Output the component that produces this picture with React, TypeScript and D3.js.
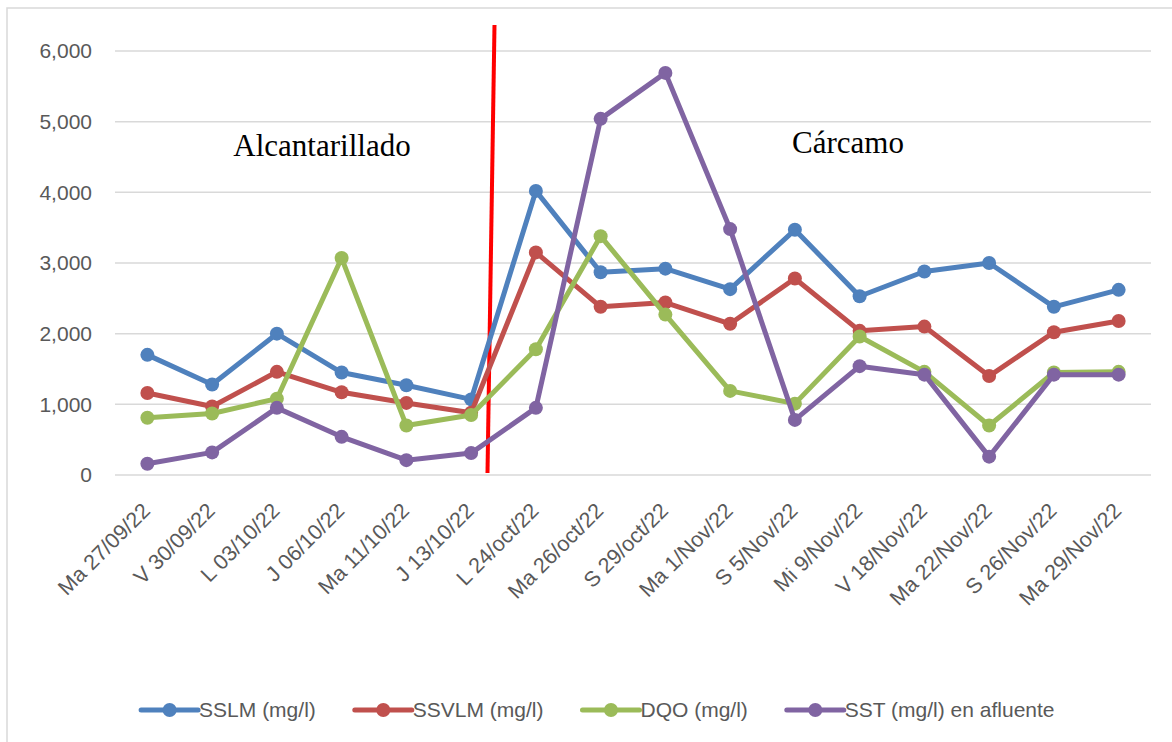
import { useMemo } from 'react'
import * as d3 from 'd3'

const CATEGORIES = [
  'Ma 27/09/22', 'V 30/09/22', 'L 03/10/22', 'J 06/10/22', 'Ma 11/10/22', 'J 13/10/22',
  'L 24/oct/22', 'Ma 26/oct/22', 'S 29/oct/22', 'Ma 1/Nov/22', 'S 5/Nov/22', 'Mi 9/Nov/22',
  'V 18/Nov/22', 'Ma 22/Nov/22', 'S 26/Nov/22', 'Ma 29/Nov/22',
]

const SSLM = [1700, 1280, 2000, 1450, 1270, 1070, 4020, 2870, 2920, 2630, 3470, 2530, 2880, 3000, 2380, 2620]
const SSVLM = [1160, 970, 1460, 1170, 1020, 880, 3150, 2380, 2440, 2140, 2780, 2040, 2100, 1400, 2020, 2180]
const DQO = [810, 870, 1080, 3070, 700, 850, 1780, 3380, 2270, 1190, 1010, 1960, 1460, 700, 1450, 1460]
const SST = [160, 320, 950, 540, 210, 310, 950, 5040, 5690, 3480, 780, 1540, 1420, 260, 1420, 1420]

const SERIES = [
  { name: 'SSLM (mg/l)', values: SSLM, color: '#4f81bd' },
  { name: 'SSVLM (mg/l)', values: SSVLM, color: '#c0504d' },
  { name: 'DQO (mg/l)', values: DQO, color: '#9bbb59' },
  { name: 'SST (mg/l) en afluente', values: SST, color: '#8064a2' },
]

const Y_TICKS = [0, 1000, 2000, 3000, 4000, 5000, 6000]

const W = 1172
const H = 742
const FONT = '"Liberation Sans", Arial, sans-serif'
const SERIF = '"Liberation Serif", "Times New Roman", serif'

export default function App() {
  const x = d3.scaleBand<string>().domain(CATEGORIES).range([115, 1151])
  const y = d3.scaleLinear().domain([0, 6000]).range([475, 51])
  const cx = (c: string) => (x(c) ?? 0) + x.bandwidth() / 2
  const fmt = d3.format(',')

  const line = d3.line<number>()
    .x((_, i) => cx(CATEGORIES[i]))
    .y((v) => y(v))

  // legend layout from measured text widths, centred like the original
  const legend = useMemo(() => {
    const ctx = document.createElement('canvas').getContext('2d')!
    ctx.font = `21px ${FONT}`
    const swatch = 58
    const gap = 39
    const widths = SERIES.map((s) => swatch + ctx.measureText(s.name).width)
    const total = d3.sum(widths) + gap * (SERIES.length - 1)
    let pos = 598 - total / 2
    return SERIES.map((s, i) => {
      const item = { ...s, x: pos }
      pos += widths[i] + gap
      return item
    })
  }, [])

  const divider = x(CATEGORIES[6]) ?? 0

  return (
    <div style={{ position: 'absolute', left: 0, top: 0 }}>
      <svg width={W} height={H} style={{ display: 'block', background: '#fff' }}>
        <rect x={7} y={8} width={W + 10} height={H + 10} fill="#fff" stroke="#d9d9d9" strokeWidth={1.5} />

        {Y_TICKS.map((t) => (
          <g key={t}>
            <line x1={115} x2={1151} y1={y(t)} y2={y(t)} stroke="#d9d9d9" strokeWidth={1.5} />
            <text x={92} y={y(t)} dy="0.35em" textAnchor="end" fontFamily={FONT} fontSize={21} fill="#595959">
              {fmt(t)}
            </text>
          </g>
        ))}

        {CATEGORIES.map((c) => (
          <text key={c} transform={`translate(${cx(c) + 4},${512}) rotate(-45)`} textAnchor="end"
            fontFamily={FONT} fontSize={21.5} fill="#595959">
            {c}
          </text>
        ))}

        {/* separation line between the two sampling points */}
        <line x1={divider - 9} y1={y(6000) - 26} x2={divider - 16} y2={y(0) - 2}
          stroke="#ff0000" strokeWidth={4} />

        {SERIES.map((s) => (
          <g key={s.name}>
            <path d={line(s.values) ?? ''} fill="none" stroke={s.color} strokeWidth={5} strokeLinejoin="round" />
            {s.values.map((v, i) => (
              <circle key={i} cx={cx(CATEGORIES[i])} cy={y(v)} r={7} fill={s.color} />
            ))}
          </g>
        ))}

        <text x={322} y={156} textAnchor="middle" fontFamily={SERIF} fontSize={31} fill="#000">
          Alcantarillado
        </text>
        <text x={848} y={153} textAnchor="middle" fontFamily={SERIF} fontSize={31} fill="#000">
          Cárcamo
        </text>

        {legend.map((s) => (
          <g key={s.name} transform={`translate(${s.x},710)`}>
            <line x1={0} x2={57} y1={0} y2={0} stroke={s.color} strokeWidth={5} strokeLinecap="round" />
            <circle cx={28.5} cy={0} r={7} fill={s.color} />
            <text x={58} y={0} dy="0.35em" fontFamily={FONT} fontSize={21} fill="#595959">{s.name}</text>
          </g>
        ))}
      </svg>
    </div>
  )
}
